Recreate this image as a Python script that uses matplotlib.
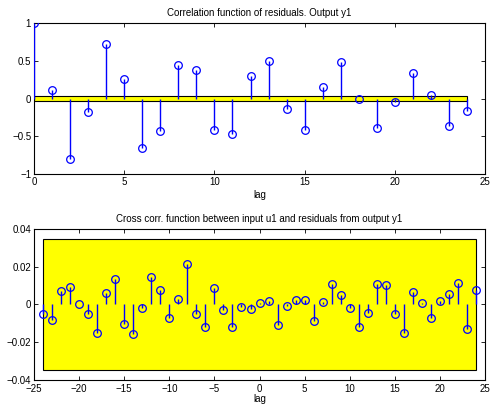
import numpy as np
import matplotlib
matplotlib.use("Agg")
import matplotlib.pyplot as plt
from matplotlib.patches import Rectangle

# autocorrelation of residuals, lags 0..24
lags_r = np.arange(0, 25)
corr_r = [1.0, 0.11, -0.80, -0.18, 0.72, 0.265, -0.66, -0.43, 0.45, 0.38,
          -0.42, -0.47, 0.30, 0.50, -0.14, -0.41, 0.15, 0.48, 0.0, -0.39,
          -0.045, 0.335, 0.053, -0.36, -0.17]
conf_r = 0.037

# cross correlation u1 -> residuals, lags -24..24
lags_c = np.arange(-24, 25)
corr_c = [-0.0048, -0.0083, 0.0073, 0.0090, 0.0002, -0.0053, -0.0150, 0.0062,
          0.0133, -0.0104, -0.0158, -0.0021, 0.0143, 0.0078, -0.0073, 0.0028,
          0.0212, -0.0051, -0.0120, 0.0087, -0.0028, -0.0120, -0.0016, -0.0023,
          0.0007, 0.0018, -0.0110, -0.0009, 0.0023, 0.0021, -0.0088, 0.0012,
          0.0106, 0.0051, -0.0018, -0.0117, -0.0046, 0.0108, 0.0101, -0.0050,
          -0.0149, 0.0065, 0.0007, -0.0073, 0.0016, 0.0057, 0.0113, -0.0129,
          0.0078]
conf_c = 0.0347

plt.rcParams['font.family'] = ['Liberation Sans', 'DejaVu Sans']
plt.rcParams['font.size'] = 7
plt.rcParams['axes.unicode_minus'] = True

fig = plt.figure(figsize=(4.92, 4.04), dpi=100)
ax1 = fig.add_axes([0.069, 0.569, 0.917, 0.374])
ax2 = fig.add_axes([0.069, 0.0594, 0.917, 0.374])


def stems(ax, x, y):
    ax.vlines(x, 0, y, color='blue', lw=1.0, zorder=3)
    ax.plot(x, y, 'o', mfc='none', mec='blue', ms=5.5, mew=0.9, zorder=4)


# top panel
ax1.add_patch(Rectangle((lags_r[0], -conf_r), lags_r[-1] - lags_r[0], 2 * conf_r,
                        facecolor='yellow', edgecolor='black', lw=0.8, zorder=2))
stems(ax1, lags_r, corr_r)
ax1.set_xlim(0, 25)
ax1.set_ylim(-1, 1)
ax1.set_xticks([0, 5, 10, 15, 20, 25])
ax1.set_yticks([-1, -0.5, 0, 0.5, 1])
ax1.set_yticklabels(['\u22121', '\u22120.5', '0', '0.5', '1'])
ax1.set_title('Correlation function of residuals. Output y1', fontsize=7, pad=5)
ax1.set_xlabel('lag', labelpad=2)

# bottom panel
ax2.add_patch(Rectangle((lags_c[0], -conf_c), lags_c[-1] - lags_c[0], 2 * conf_c,
                        facecolor='yellow', edgecolor='black', lw=0.8, zorder=2))
stems(ax2, lags_c, corr_c)
ax2.set_xlim(-25, 25)
ax2.set_ylim(-0.04, 0.04)
ax2.set_xticks(np.arange(-25, 26, 5))
ax2.set_yticks([-0.04, -0.02, 0, 0.02, 0.04])
ax2.set_yticklabels(['\u22120.04', '\u22120.02', '0', '0.02', '0.04'])
ax2.set_title('Cross corr. function between input u1 and residuals from output y1',
              fontsize=7, pad=5)
ax2.set_xlabel('lag', labelpad=0)

for ax in (ax1, ax2):
    ax.tick_params(direction='in', top=True, right=True, length=3, width=0.6, pad=2)
    for s in ax.spines.values():
        s.set_linewidth(0.8)
ax2.tick_params(axis='x', pad=3)

fig.savefig('out.png', dpi=100)
